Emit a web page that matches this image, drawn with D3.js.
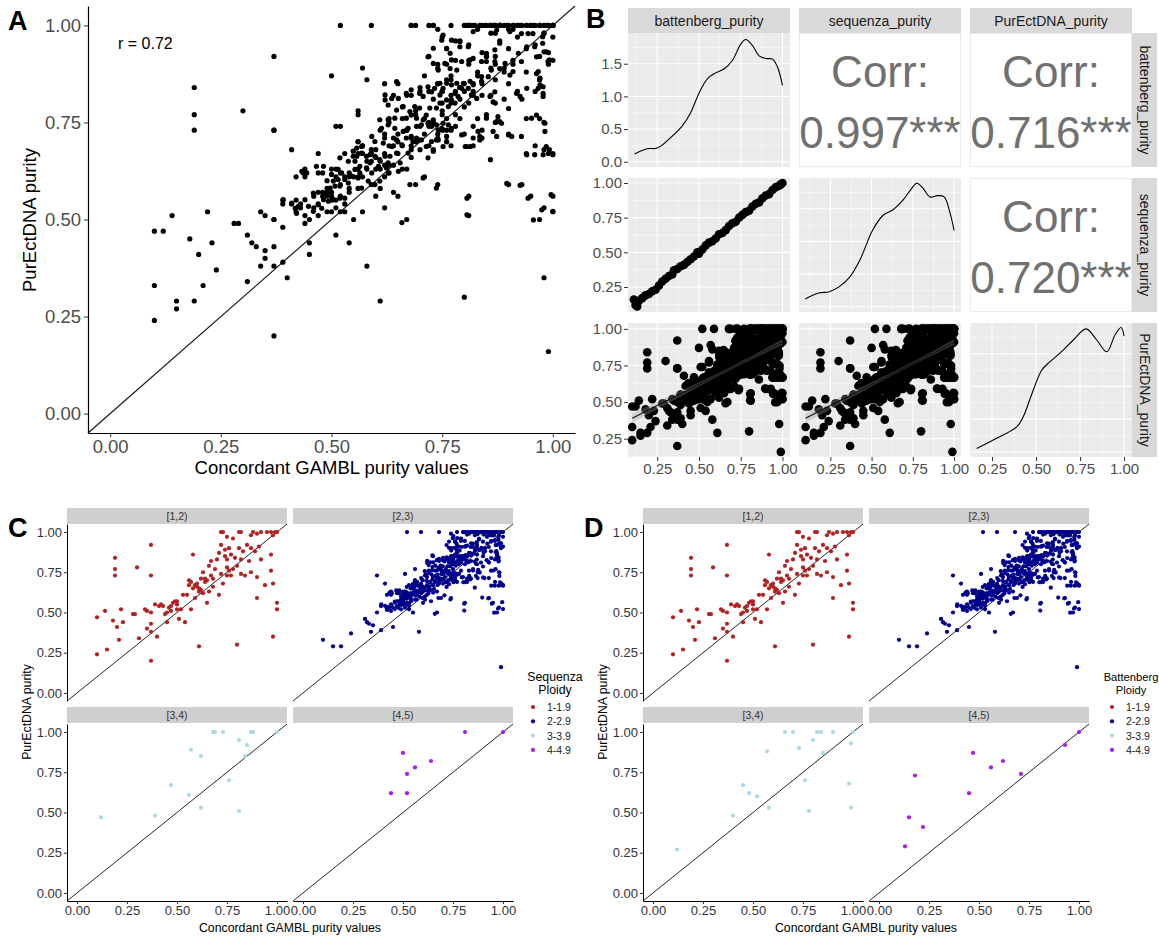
<!DOCTYPE html>
<html><head><meta charset="utf-8">
<script src="https://cdn.jsdelivr.net/npm/d3@7"></script>
<style>body{margin:0;background:#fff}svg{display:block}</style>
</head><body><svg id="c" width="1159" height="936"></svg>
<script>
// ---------------- DATA ----------------
const tickVals = [0, 0.25, 0.5, 0.75, 1];
const pairTicks = [0.25, 0.5, 0.75, 1];
const densTicks = [0, 0.5, 1, 1.5];
const ploidyLabels = ["1-1.9", "2-2.9", "3-3.9", "4-4.9"];
const facetLabels = ["[1,2)", "[2,3)", "[3,4)", "[4,5)"];
const ploidyColors = ["#B22222", "#00008B", "#ADD8E6", "#A020F0"];
const pairNames = ["battenberg_purity", "sequenza_purity", "PurEctDNA_purity"];
const corrValues = ["0.997***", "0.716***", "0.720***"];
const rValue = "r = 0.72";

// Sequenza ploidy facets: [GAMBL purity, PurEctDNA purity]
const seqP1 = [[.10,.24],[.10,.47],[.15,.27],[.14,.51],[.18,.45],[.19,.84],[.19,.77],[.19,.73],[.20,.41],[.21,.33],[.22,.52],[.23,.44],[.28,.49],[.29,.49],[.30,.78],[.31,.34],[.34,.52],[.35,.51],[.35,.40],[.37,.92],[.37,.73],[.37,.50],[.37,.43],[.37,.38],[.37,.20],[.39,.55],[.40,.35],[.41,.54],[.42,.55],[.43,.54],[.44,.49],[.45,.50],[.45,.44],[.46,.53],[.47,.54],[.47,.51],[.48,.56],[.49,.57],[.50,.57],[.50,.55],[.50,.52],[.51,.46],[.52,.52],[.53,.61],[.54,.44],[.55,.61],[.56,.67],[.56,.70],[.57,.69],[.57,.52],[.58,.86],[.58,.65],[.59,.59],[.59,.67],[.60,.68],[.60,.66],[.61,.63],[.61,.65],[.61,.29],[.62,.71],[.62,.64],[.63,.62],[.63,.75],[.64,.69],[.64,.71],[.65,.56],[.65,.70],[.66,.79],[.66,.63],[.67,.73],[.67,.82],[.68,.66],[.68,.71],[.69,.77],[.70,.83],[.71,.87],[.71,.61],[.72,1.0],[.73,1.0],[.72,.92],[.72,.74],[.73,.68],[.74,.85],[.74,.89],[.75,.78],[.75,.97],[.75,.73],[.75,.83],[.76,.76],[.76,.90],[.77,.73],[.77,.86],[.78,.96],[.78,.77],[.79,.84],[.80,.79],[.80,.30],[.81,1.0],[.81,.90],[.82,.74],[.82,.83],[.82,1.0],[.83,.88],[.84,.73],[.85,.92],[.86,.82],[.87,.98],[.87,.75],[.87,.90],[.88,1.0],[.89,.88],[.90,.99],[.90,.72],[.90,.59],[.91,.91],[.92,1.0],[.92,.83],[.94,.67],[.95,1.0],[.97,.76],[.97,.86],[.97,1.0],[.98,.98],[.98,.68],[.98,.35],[.99,1.0],[1.0,.56],[1.0,.52],[1.0,1.0]];
const seqP2 = [[.10,.33],[.15,.29],[.19,.29],[.24,.37],[.31,.46],[.32,.44],[.33,.43],[.34,.38],[.35,.42],[.37,.73],[.37,.50],[.39,.39],[.41,.68],[.42,.52],[.43,.53],[.44,.63],[.44,.61],[.45,.41],[.46,.56],[.47,.62],[.48,.62],[.48,.57],[.49,.60],[.49,.56],[.50,.63],[.50,.57],[.51,.53],[.51,.55],[.51,.74],[.52,1.0],[.52,.59],[.52,.56],[.53,.67],[.53,.52],[.54,.58],[.54,.61],[.55,.50],[.56,.77],[.56,.63],[.57,.67],[.57,.69],[.57,.61],[.58,.38],[.59,.65],[.59,1.0],[.59,.68],[.60,.56],[.60,.63],[.61,.73],[.61,.58],[.62,.72],[.62,.67],[.62,.61],[.63,.69],[.63,.76],[.64,.57],[.64,.64],[.65,.72],[.65,.85],[.66,.76],[.66,.69],[.67,.50],[.67,.63],[.67,.73],[.68,.82],[.68,1.0],[.69,.70],[.69,.59],[.69,.78],[.70,.68],[.70,.84],[.71,.72],[.71,.76],[.72,.69],[.72,.83],[.73,.81],[.73,.75],[.74,.71],[.74,.99],[.74,.90],[.74,.59],[.74,.85],[.75,.77],[.75,.83],[.76,.94],[.76,.73],[.77,1.0],[.77,.80],[.77,.87],[.77,.69],[.78,.83],[.78,.91],[.79,.76],[.79,.96],[.79,.81],[.80,.85],[.80,1.0],[.80,.72],[.81,.91],[.81,.80],[.81,.56],[.82,.85],[.82,.82],[.82,.69],[.83,.99],[.83,.76],[.83,.87],[.84,.71],[.84,.82],[.84,.93],[.85,1.0],[.85,.77],[.86,.89],[.86,.98],[.87,.80],[.87,.86],[.87,.92],[.88,1.0],[.88,.96],[.89,.81],[.89,.89],[.89,1.0],[.90,.94],[.90,.85],[.91,.99],[.91,1.0],[.91,.90],[.92,1.0],[.92,.97],[.93,.81],[.93,1.0],[.93,.59],[.94,.76],[.94,.94],[.94,1.0],[.94,.88],[.95,.56],[.95,1.0],[.96,.83],[.96,.95],[.96,.69],[.97,1.0],[.97,.50],[.97,.92],[.97,.86],[.98,1.0],[.98,.98],[.98,.53],[.98,.75],[.99,.93],[.99,.67],[.99,1.0],[.99,.90],[.99,.16],[1.0,1.0],[1.0,.97],[1.0,.67],[1.0,.91],[.49,.58],[.51,.61],[.53,.54],[.54,.57],[.75,.80],[.77,.82],[.79,.84],[.76,.86],[.78,.74],[.74,.72],[.80,.83],[.72,.75],[.70,.74],[.68,.69],[.65,.67],[.63,.64],[.58,.63],[.56,.58],[.54,.62],[.51,.63],[.47,.57],[.42,.61],[.39,.54],[.44,.51],[.49,.52],[.84,1.0],[.86,1.0],[.87,1.0],[.90,1.0],[.96,1.0],
  [.752,.975],[.749,.962],[.771,.962],[.79,.958],[.79,.945],[.809,.945],[.73,.941],[.76,.941],[.768,.928],[.771,.911],[.794,.907],[.813,.911],[.82,.915],[.839,.907],[.85,.928],[.869,.937],[.88,.954],[.85,.907],[.869,.907],[.892,.902],[.91,.881],[.922,.928],[.929,.907],[.941,.945],[.959,.945],[.963,.919],[.977,.971],[.985,.932],[.992,.911],[.718,.919],[.73,.902],[.741,.885],[.756,.902],[.768,.889],[.783,.885],[.798,.851],[.813,.856],[.82,.847],[.839,.856],[.839,.868],[.854,.868],[.861,.885],[.88,.889],[.903,.872],[.745,.851],[.733,.838],[.752,.838],[.76,.851],[.771,.847],[.779,.825],[.783,.851],[.794,.838],[.809,.838],[.816,.821],[.828,.812],[.858,.817],[.869,.829],[.865,.803],[.90,.786],[.918,.825],[.926,.817],[.941,.838],[.967,.838],[.978,.825],[.978,.817],[.647,.855],[.621,.821],[.621,.808],[.636,.812],[.651,.812],[.669,.825],[.68,.834],[.699,.825],[.707,.817],[.718,.842],[.726,.829],[.745,.821],[.76,.808],[.771,.808],[.779,.80],[.786,.817],[.764,.791],[.745,.80],[.737,.787],[.722,.787],[.699,.787],[.688,.791],[.677,.778],[.662,.791],[.647,.782],[.628,.795],[.609,.757],[.628,.757],[.643,.761],[.669,.761],[.68,.769],[.692,.761],[.707,.757],[.714,.769],[.718,.748],[.73,.757],[.737,.744],[.752,.748],[.764,.744],[.771,.735],[.752,.731],[.741,.731],[.726,.74],[.703,.744],[.692,.74],[.673,.735],[.662,.727],[.643,.735],[.628,.744],[.613,.735],[.591,.714],[.598,.701],[.617,.697],[.636,.688],[.647,.705],[.659,.692],[.669,.71],[.68,.714],[.684,.701],[.696,.705],[.714,.688],[.726,.701],[.741,.705],[.76,.701],[.802,.688],[.813,.688],[.835,.705],[.865,.727],[.56,.701],[.568,.688],[.557,.684],[.549,.663],[.568,.671],[.579,.663],[.587,.646],[.598,.663],[.609,.654],[.621,.663],[.628,.646],[.624,.633],[.606,.637],[.591,.62],[.579,.633],[.564,.637],[.553,.629],[.564,.62],[.56,.607],[.583,.599],[.568,.581],[.598,.59],[.609,.599],[.628,.62],[.651,.624],[.655,.646],[.647,.671],[.523,.62],[.515,.629],[.504,.599],[.497,.581],[.508,.586],[.519,.586],[.538,.594],[.53,.603],[.546,.612],[.489,.568],[.50,.56],[.482,.551],[.493,.547],[.504,.551],[.519,.555],[.53,.555],[.47,.538],[.478,.529],[.459,.521],[.448,.534],[.44,.551],[.433,.624],[.436,.62],[.444,.62],[.41,.542],[.418,.529],[.425,.534],[.421,.516],[.391,.551],[.459,.568],[.466,.637],[.482,.637],[.50,.616],[.515,.603],[.519,.659],[.549,.676],[.538,.65],[.553,.65],[.557,.663],[.587,.667],[.632,.663],[.673,.671],[.68,.68],[.692,.71],[.703,.705],[.737,.705],[.76,.714],[.73,.676],[.718,.659],[.749,.735],[.794,.718],[.805,.688],[.82,.71],[.831,.727],[.85,.761],[.876,.765],[.884,.748],[.873,.714],[.90,.718],[.929,.714],[.952,.761],[.963,.769],[.982,.748],[.982,.727],[.985,.688],[1.0,.667],[.978,.667],[.941,.667],[.959,.667],[.992,.68],[.963,.876],[.971,.864],[.971,.847],[.978,.842],[.989,.907],[.967,.881],[.977,.954],[.98,.932],[.929,.979],[.944,.979],[.955,.979],[.903,.984],[.873,.988],[.82,.984],[.866,1.0],[.881,1.0],[.896,1.0],[.911,1.0],[.926,1.0],[.941,1.0],[.956,1.0],[.971,1.0],[.986,1.0],[.858,1.0],[.847,1.0],[.835,1.0],[.824,1.0],[.813,1.0],[.805,1.0],[.806,.555],[.806,.512],[.859,.654],[.896,.593],[.926,.588],[.944,.555],[.956,.499],[.975,.525],[.996,.564],[1.0,.521],[.737,.581],[.707,.607],[.677,.59],[.659,.492],[.752,.688],[.835,.714],[.873,.752],[.88,.752],[.907,.714]];
const seqP3 = [[.12,.47],[.39,.48],[.47,.67],[.56,.61],[.57,.89],[.62,.85],[.62,.53],[.68,1.0],[.69,1.0],[.73,1.0],[.76,.70],[.81,.95],[.81,.51],[.85,.92],[.84,.85],[.87,1.0],[.88,1.0],[1.0,1.0]];
const seqP4 = [[.44,.62],[.50,.87],[.52,.74],[.52,.62],[.56,.78],[.64,.82],[.81,1.0],[1.0,1.0]];

// Battenberg ploidy facets
const batP1 = seqP1;
const batP2 = seqP2;
const batP3 = [[.12,.27],[.40,.48],[.45,.67],[.48,.62],[.52,.60],[.57,.88],[.58,.53],[.66,1.0],[.70,1.0],[.73,.90],[.76,.70],[.78,.51],[.80,.95],[.82,1.0],[.84,1.0],[.85,.87],[.90,1.0],[.98,.68],[.99,.53],[.99,.93],[1.0,1.0]];
const batP4 = [[.13,.29],[.15,.47],[.18,.73],[.22,.41],[.45,.62],[.47,.87],[.56,.78],[.62,.82],[.71,.74],[.93,.92],[1.0,1.0]];

// battenberg vs sequenza purity
const battPur = [0.11,0.12,0.13,0.14,0.16,0.18,0.20,0.22,0.24,0.26,0.28,0.30,0.32,0.34,0.35,0.37,0.39,0.41,0.43,0.45,0.47,0.49,0.50,0.52,0.54,0.56,0.58,0.60,0.62,0.64,0.66,0.68,0.70,0.72,0.74,0.76,0.78,0.80,0.82,0.84,0.86,0.88,0.90,0.92,0.94,0.96,0.98,0.99,1.0];
const seqPur  = [0.16,0.12,0.11,0.15,0.17,0.19,0.20,0.22,0.23,0.26,0.29,0.31,0.33,0.34,0.37,0.38,0.40,0.41,0.43,0.45,0.47,0.50,0.49,0.52,0.55,0.57,0.58,0.60,0.63,0.64,0.66,0.69,0.71,0.72,0.75,0.77,0.79,0.80,0.83,0.85,0.86,0.89,0.91,0.92,0.95,0.97,0.98,0.99,1.0];

// density curves (x, density)
const battDensX = [0.114,0.19,0.25,0.33,0.40,0.45,0.50,0.55,0.60,0.65,0.70,0.75,0.78,0.82,0.86,0.90,0.94,0.97,1.0];
const battDensY = [0.12,0.20,0.21,0.37,0.55,0.75,1.05,1.27,1.36,1.42,1.55,1.80,1.87,1.78,1.62,1.58,1.57,1.45,1.17];
const seqDensX = [0.098,0.18,0.244,0.30,0.366,0.43,0.506,0.57,0.628,0.69,0.74,0.774,0.81,0.854,0.90,0.94,0.976,1.0];
const seqDensY = [0.12,0.21,0.23,0.30,0.45,0.72,1.17,1.40,1.48,1.63,1.80,1.89,1.82,1.68,1.70,1.68,1.43,1.17];
const purDensX = [0.163,0.257,0.39,0.428,0.485,0.533,0.58,0.636,0.712,0.784,0.845,0.902,0.949,0.983,1.0];
const purDensY = [0.05,0.18,0.38,0.54,0.95,1.25,1.38,1.51,1.71,1.88,1.71,1.53,1.79,1.90,1.77];

// ---------------- DRAW ----------------
const FONT = '"Liberation Sans", Arial, Helvetica, sans-serif';
const svg = d3.select('#c').attr('font-family', FONT);
const f2 = d3.format('.2f'), f1 = d3.format('.1f');

function styleAxis(sel, o) {
  sel.attr('font-family', FONT).attr('font-size', o.fs);
  sel.select('.domain').attr('stroke', o.domain || 'none').attr('stroke-width', o.dw || 1);
  sel.selectAll('.tick line').attr('stroke', o.tick || '#333').attr('stroke-width', o.tw || 1);
  sel.selectAll('.tick text').attr('fill', o.text || '#4d4d4d').attr('font-size', o.fs);
}
function panelLabel(t, x, y) {
  svg.append('text').attr('x', x).attr('y', y).text(t).attr('font-size', 27).attr('font-weight', 'bold').attr('fill', '#000');
}

// ===== Panel A =====
(function () {
  const g = svg.append('g');
  const x = d3.scaleLinear().domain([-0.05, 1.05]).range([88, 575]);
  const y = d3.scaleLinear().domain([-0.05, 1.05]).range([433, 6]);
  const all = seqP1.concat(seqP2, seqP3, seqP4);
  g.append('line').attr('x1', x(-0.05)).attr('y1', y(-0.05)).attr('x2', x(1.05)).attr('y2', y(1.05))
    .attr('stroke', '#1a1a1a').attr('stroke-width', 1.2);
  g.selectAll('circle').data(all).join('circle')
    .attr('cx', d => x(d[0])).attr('cy', d => y(d[1])).attr('r', 2.6).attr('fill', '#000');
  g.append('g').attr('transform', 'translate(0,433)')
    .call(d3.axisBottom(x).tickValues(tickVals).tickFormat(f2).tickSizeInner(4).tickSizeOuter(0).tickPadding(3))
    .call(styleAxis, { fs: 18.5, domain: '#000', dw: 1.2, text: '#4d4d4d' });
  g.append('g').attr('transform', 'translate(88,0)')
    .call(d3.axisLeft(y).tickValues(tickVals).tickFormat(f2).tickSizeInner(4).tickSizeOuter(0).tickPadding(3))
    .call(styleAxis, { fs: 18.5, domain: '#000', dw: 1.2, text: '#4d4d4d' });
  g.append('text').attr('x', (88 + 575) / 2).attr('y', 474).attr('text-anchor', 'middle')
    .attr('font-size', 18.5).text('Concordant GAMBL purity values');
  g.append('text').attr('transform', 'translate(36,220) rotate(-90)').attr('text-anchor', 'middle')
    .attr('font-size', 18.5).text('PurEctDNA purity');
  g.append('text').attr('x', 118).attr('y', 49).attr('font-size', 16).text(rValue);
  panelLabel('A', 8, 30);
})();

// ===== Panel B (pairs) =====
(function () {
  const g = svg.append('g');
  const W = 162, H = 134;
  const cols = [{ x0: 628, dom: [0.075, 1.045] }, { x0: 799, dom: [0.06, 1.042] }, { x0: 970, dom: [0.125, 1.045] }];
  const rows = [{ y0: 33, dom: [-0.08, 1.97] }, { y0: 178, dom: [0.07, 1.036] }, { y0: 323, dom: [0.125, 1.04] }];
  const xs = cols.map(c => d3.scaleLinear().domain(c.dom).range([c.x0, c.x0 + W]));
  const ys = rows.map(r => d3.scaleLinear().domain(r.dom).range([r.y0 + H, r.y0]));
  const dys = rows.map(r => d3.scaleLinear().domain([-0.08, 1.97]).range([r.y0 + H, r.y0]));
  const all = seqP1.concat(seqP2, seqP3, seqP4);
  const mids = [0.125, 0.375, 0.625, 0.875];

  function gridPanel(r, c, diag) {
    const x = xs[c], y = diag ? dys[r] : ys[r];
    g.append('rect').attr('x', cols[c].x0).attr('y', rows[r].y0).attr('width', W).attr('height', H).attr('fill', '#ebebeb');
    const yMaj = diag ? densTicks : pairTicks, yMin = diag ? [0.25, 0.75, 1.25, 1.75] : mids;
    const inY = v => v >= y.domain()[0] && v <= y.domain()[1];
    const inX = v => v >= x.domain()[0] && v <= x.domain()[1];
    mids.filter(inX).forEach(v => g.append('line').attr('x1', x(v)).attr('x2', x(v)).attr('y1', rows[r].y0).attr('y2', rows[r].y0 + H).attr('stroke', '#fff').attr('stroke-width', 0.5));
    yMin.filter(inY).forEach(v => g.append('line').attr('y1', y(v)).attr('y2', y(v)).attr('x1', cols[c].x0).attr('x2', cols[c].x0 + W).attr('stroke', '#fff').attr('stroke-width', 0.5));
    pairTicks.filter(inX).forEach(v => g.append('line').attr('x1', x(v)).attr('x2', x(v)).attr('y1', rows[r].y0).attr('y2', rows[r].y0 + H).attr('stroke', '#fff').attr('stroke-width', 1.1));
    yMaj.filter(inY).forEach(v => g.append('line').attr('y1', y(v)).attr('y2', y(v)).attr('x1', cols[c].x0).attr('x2', cols[c].x0 + W).attr('stroke', '#fff').attr('stroke-width', 1.1));
  }
  function density(r, c, dx, dy) {
    gridPanel(r, c, true);
    const line = d3.line().x(d => xs[c](d[0])).y(d => dys[r](d[1])).curve(d3.curveCatmullRom.alpha(0.5));
    g.append('path').datum(dx.map((v, i) => [v, dy[i]])).attr('d', line).attr('fill', 'none').attr('stroke', '#000').attr('stroke-width', 1.1);
  }
  function corr(r, c, val) {
    g.append('rect').attr('x', cols[c].x0 + 0.5).attr('y', rows[r].y0 + 0.5).attr('width', W - 1).attr('height', H - 1)
      .attr('fill', '#fff').attr('stroke', '#ebebeb');
    const cx = cols[c].x0 + W / 2;
    g.append('text').attr('x', cx).attr('y', rows[r].y0 + 54).attr('text-anchor', 'middle').attr('font-size', 44).attr('fill', '#707070').text('Corr:');
    g.append('text').attr('x', cx).attr('y', rows[r].y0 + 115).attr('text-anchor', 'middle').attr('font-size', 44).attr('fill', '#707070').text(val);
  }
  function scatter(r, c, pts, smooth) {
    gridPanel(r, c, false);
    const x = xs[c], y = ys[r];
    g.append('g').selectAll('circle').data(pts).join('circle')
      .attr('cx', d => x(d[0])).attr('cy', d => y(d[1])).attr('r', 4.3).attr('fill', '#000');
    if (smooth) {
      const n = pts.length, mx = d3.mean(pts, d => d[0]), my = d3.mean(pts, d => d[1]);
      let sxx = 0, sxy = 0; pts.forEach(d => { sxx += (d[0] - mx) ** 2; sxy += (d[0] - mx) * (d[1] - my); });
      const b = sxy / sxx, a = my - b * mx;
      let sse = 0; pts.forEach(d => { sse += (d[1] - a - b * d[0]) ** 2; });
      const s = Math.sqrt(sse / (n - 2));
      const [x0, x1] = d3.extent(pts, d => d[0]);
      const xsamp = d3.range(0, 41).map(i => x0 + (x1 - x0) * i / 40);
      const band = xsamp.map(v => { const se = 1.96 * s * Math.sqrt(1 / n + (v - mx) ** 2 / sxx); return [v, a + b * v - se, a + b * v + se]; });
      g.append('path').datum(band).attr('d', d3.area().x(d => x(d[0])).y0(d => y(d[1])).y1(d => y(d[2])))
        .attr('fill', '#999').attr('opacity', 0.35);
      g.append('line').attr('x1', x(x0)).attr('y1', y(a + b * x0)).attr('x2', x(x1)).attr('y2', y(a + b * x1))
        .attr('stroke', '#111').attr('stroke-width', 1.1);
    }
  }
  density(0, 0, battDensX, battDensY);
  corr(0, 1, corrValues[0]);
  corr(0, 2, corrValues[1]);
  scatter(1, 0, battPur.map((v, i) => [v, seqPur[i]]), false);
  density(1, 1, seqDensX, seqDensY);
  corr(1, 2, corrValues[2]);
  scatter(2, 0, all, true);
  scatter(2, 1, all, true);
  density(2, 2, purDensX, purDensY);

  // strips
  cols.forEach((c, i) => {
    g.append('rect').attr('x', c.x0).attr('y', 8).attr('width', W).attr('height', 25).attr('fill', '#d9d9d9');
    g.append('text').attr('x', c.x0 + W / 2).attr('y', 25.5).attr('text-anchor', 'middle').attr('font-size', 14).attr('fill', '#1a1a1a').text(pairNames[i]);
  });
  rows.forEach((r, i) => {
    g.append('rect').attr('x', 1132).attr('y', r.y0).attr('width', 25).attr('height', H).attr('fill', '#d9d9d9');
    g.append('text').attr('transform', `translate(1139.5,${r.y0 + H / 2}) rotate(90)`).attr('text-anchor', 'middle').attr('font-size', 14).attr('fill', '#1a1a1a').text(pairNames[i]);
  });
  // axes
  const opt = { fs: 15, domain: 'none', text: '#4d4d4d', tick: '#333' };
  g.append('g').attr('transform', 'translate(628,0)').call(d3.axisLeft(dys[0]).tickValues(densTicks).tickFormat(f1).tickSizeInner(4).tickSizeOuter(0).tickPadding(2)).call(styleAxis, opt);
  [1, 2].forEach(r => g.append('g').attr('transform', 'translate(628,0)').call(d3.axisLeft(ys[r]).tickValues(pairTicks).tickFormat(f2).tickSizeInner(4).tickSizeOuter(0).tickPadding(2)).call(styleAxis, opt));
  [0, 1, 2].forEach(c => g.append('g').attr('transform', `translate(0,${323 + H})`).call(d3.axisBottom(xs[c]).tickValues(pairTicks).tickFormat(f2).tickSizeInner(4).tickSizeOuter(0).tickPadding(2)).call(styleAxis, opt));
  panelLabel('B', 586, 28);
})();

// ===== Panels C & D =====
function facetFigure(off, groups, titleLines, label, leg) {
  const g = svg.append('g');
  const colX = [67 + off, 293 + off], PW = 220;
  const rows = [{ s: 508, p0: 524, p1: 701 }, { s: 707, p0: 724, p1: 901 }];
  groups.forEach((pts, i) => {
    const c = i % 2, r = Math.floor(i / 2);
    const x = d3.scaleLinear().domain([-0.05, 1.05]).range([colX[c], colX[c] + PW]);
    const y = d3.scaleLinear().domain([-0.05, 1.05]).range([rows[r].p1, rows[r].p0]);
    g.append('rect').attr('x', colX[c]).attr('y', rows[r].s).attr('width', PW).attr('height', 16).attr('fill', '#cfcfcf');
    g.append('text').attr('x', colX[c] + PW / 2).attr('y', rows[r].s + 12).attr('text-anchor', 'middle').attr('font-size', 10.5).attr('fill', '#333').text(facetLabels[i]);
    g.append('line').attr('x1', x(-0.05)).attr('y1', y(-0.05)).attr('x2', x(1.05)).attr('y2', y(1.05)).attr('stroke', '#262626').attr('stroke-width', 1);
    g.append('g').selectAll('circle').data(pts).join('circle')
      .attr('cx', d => x(d[0])).attr('cy', d => y(d[1])).attr('r', 2.1).attr('fill', ploidyColors[i]);
    const opt = { fs: 13, domain: '#000', dw: 1, text: '#333', tick: '#333' };
    if (c === 0) g.append('g').attr('transform', `translate(${colX[c]},0)`).call(d3.axisLeft(y).tickValues(tickVals).tickFormat(f2).tickSizeInner(3).tickSizeOuter(0).tickPadding(2)).call(styleAxis, opt);
    if (r === 1) g.append('g').attr('transform', `translate(0,${rows[r].p1})`).call(d3.axisBottom(x).tickValues(tickVals).tickFormat(f2).tickSizeInner(3).tickSizeOuter(0).tickPadding(2)).call(styleAxis, opt);
  });
  g.append('text').attr('x', colX[0] + (PW * 2 + 6) / 2).attr('y', 932).attr('text-anchor', 'middle').attr('font-size', 12.3).text('Concordant GAMBL purity values');
  g.append('text').attr('transform', `translate(${31 + off},712) rotate(-90)`).attr('text-anchor', 'middle').attr('font-size', 12.3).text('PurEctDNA purity');
  // legend
  titleLines.forEach((t, i) => g.append('text').attr('x', leg.cx).attr('y', 681 + i * 13).attr('text-anchor', 'middle').attr('font-size', leg.fs).text(t));
  ploidyLabels.forEach((t, i) => {
    g.append('circle').attr('cx', leg.dot).attr('cy', 707 + i * 14.3).attr('r', 2.1).attr('fill', ploidyColors[i]);
    g.append('text').attr('x', leg.dot + 14).attr('y', 711 + i * 14.3).attr('font-size', 10.5).attr('fill', '#1a1a1a').text(t);
  });
  panelLabel(label, 8 + off, 537);
}
facetFigure(0, [seqP1, seqP2, seqP3, seqP4], ['Sequenza', 'Ploidy'], 'C', { cx: 555, dot: 533, fs: 12.3 });
facetFigure(576, [batP1, batP2, batP3, batP4], ['Battenberg', 'Ploidy'], 'D', { cx: 1131, dot: 1112, fs: 11.2 });
</script></body></html>
